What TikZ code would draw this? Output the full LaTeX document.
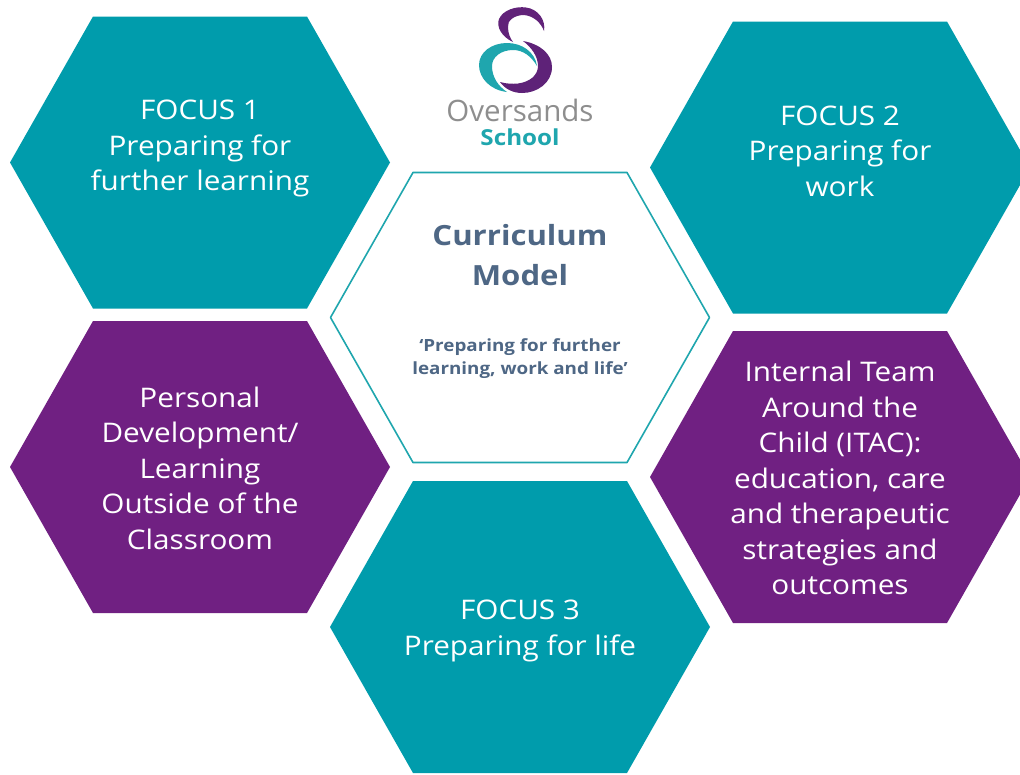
\documentclass[tikz,border=0pt]{standalone}
\usepackage{fontspec}
\setmainfont{Open Sans}
\newfontfamily\widefont[FakeStretch=1.1]{Open Sans}
\newfontfamily\widerfont[FakeStretch=1.12,Scale=1]{Open Sans}
\definecolor{teal1}{HTML}{009CAC}
\definecolor{purp1}{HTML}{702082}
\definecolor{slate1}{HTML}{4E6785}
\definecolor{grey1}{HTML}{8E8E8E}
\definecolor{logoteal}{HTML}{1FA6AE}
\definecolor{logopurp}{HTML}{5E2278}
\newcommand{\hexpath}[2]{(#1-190,#2) -- (#1-107,#2-146) -- (#1+107,#2-146) -- (#1+190,#2) -- (#1+107,#2+146) -- (#1-107,#2+146) -- cycle}
\tikzset{
 hexlabel/.style={align=center,text=white,font=\widefont\fontsize{27}{35.5}\selectfont,inner sep=0pt},
 tealhex/.style={fill=teal1,draw=none},
 purphex/.style={fill=purp1,draw=none},
 outlinehex/.style={draw=logoteal,line width=1.6pt,fill=white,line join=round},
}
\begin{document}
\begin{tikzpicture}[x=1pt,y=-1pt]
\useasboundingbox (0,0) rectangle (1020,774);
\clip (0,0) rectangle (1020,774);
\fill[white] (0,0) rectangle (1020,774);
\fill[tealhex] \hexpath{200}{162.5};
\fill[tealhex] \hexpath{840}{167.5};
\fill[purphex] \hexpath{200}{467};
\fill[purphex] \hexpath{840}{477};
\fill[tealhex] \hexpath{520}{627};
\draw[outlinehex] (330.5,317.5) -- (413,172.5) -- (627,172.5) -- (709.5,317.5) -- (627,462.5) -- (413,462.5) -- cycle;
\node[hexlabel] (f1) at (200,148.5) {FOCUS 1\\Preparing for\\further learning};
\node[hexlabel] (f2) at (840,151) {FOCUS 2\\Preparing for\\work};
\node[hexlabel] (pd) at (200,468) {Personal\\Development/\\Learning\\Outside of the\\Classroom};
\node[hexlabel] (itac) at (840,478) {Internal Team\\Around the\\Child (ITAC):\\education, care\\and therapeutic\\strategies and\\outcomes};
\node[hexlabel] (f3) at (520,631) {FOCUS 3\\Preparing for life};
\node[align=center,text=slate1,font=\widerfont\fontsize{27.8}{40}\selectfont\bfseries,inner sep=0pt] (cm) at (520,255) {Curriculum\\Model};
\node[align=center,text=slate1,font=\widerfont\fontsize{16.8}{23}\selectfont\bfseries,inner sep=0pt] (cs) at (520,359) {‘Preparing for further\\learning, work and life’};
% logo
\fill[logopurp!85!purp1] (513,42) .. controls (502,37) and (496,27) .. (499,19) .. controls (503,10) and (516,6) .. (526,7.5) .. controls (538,9) and (546,20) .. (544,31) .. controls (541,23) and (534,16) .. (524,15) .. controls (514,15) and (507,21) .. (508,27) .. controls (508,33) and (510,38) .. (513,42) -- cycle;
\fill[logopurp] (523,41) .. controls (540,44) and (552,54) .. (552,67) .. controls (552,83) and (537,93) .. (522,93) .. controls (513,93) and (505,89) .. (500,82) .. controls (507,84) and (513,84) .. (518,83.5) .. controls (530,82) and (538,75) .. (538,66) .. controls (538,56) and (531,47) .. (523,41) -- cycle;
\fill[logoteal] (507,92) .. controls (490,90) and (479,78) .. (479,65) .. controls (479,52) and (492,43) .. (507,43) .. controls (522,43) and (535,52) .. (537,66) .. controls (531,56) and (523,50) .. (513,50) .. controls (501,50) and (492,57) .. (492,66) .. controls (492,77) and (498,86) .. (507,92) -- cycle;
\node[text=grey1,font=\fontsize{29.5}{30}\selectfont,inner sep=0pt] (os) at (520,110) {Oversands};
\node[text=logoteal,font=\widefont\fontsize{22}{24}\selectfont\bfseries,inner sep=0pt] (sc) at (520,137) {School};
\end{tikzpicture}
\end{document}
